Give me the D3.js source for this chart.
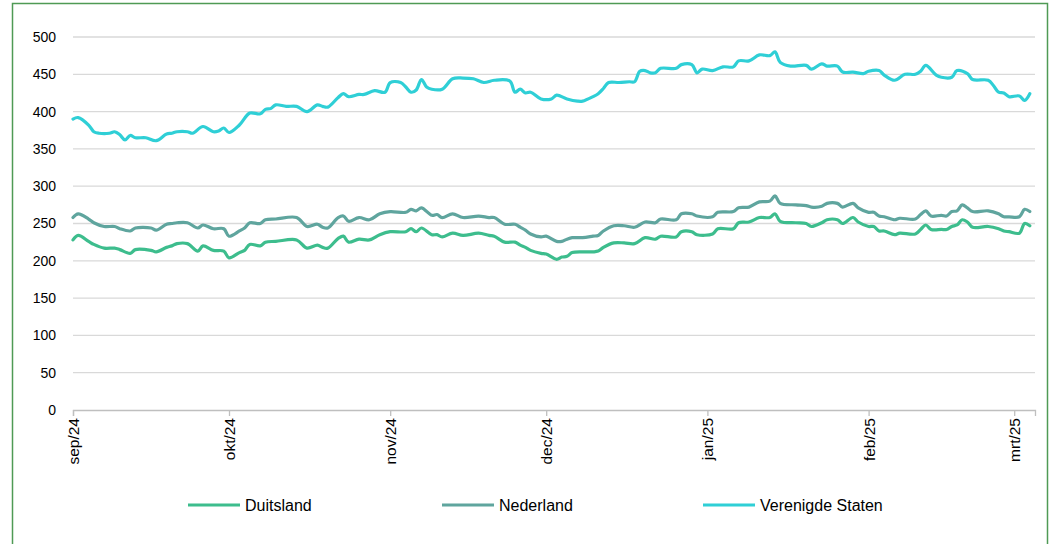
<!DOCTYPE html>
<html>
<head>
<meta charset="utf-8">
<script src="https://cdn.jsdelivr.net/npm/d3@7"></script>
<style>
  body { margin: 0; background: #fff; }
  text { font-family: "Liberation Sans", Arial, sans-serif; fill: #000; }
</style>
</head>
<body>
<div id="chart"></div>
<script>
// dates shared by Duitsland and Nederland
const datesEU = [
  "2024-09-01","2024-09-02","2024-09-04","2024-09-05","2024-09-07","2024-09-09","2024-09-10","2024-09-12","2024-09-13","2024-09-16",
  "2024-09-17","2024-09-19","2024-09-20","2024-09-21","2024-09-23","2024-09-25","2024-09-26","2024-09-28","2024-09-30",
  "2024-10-01","2024-10-03","2024-10-04","2024-10-05","2024-10-07","2024-10-08","2024-10-10","2024-10-14","2024-10-16","2024-10-18",
  "2024-10-19","2024-10-20","2024-10-22","2024-10-23","2024-10-24","2024-10-26","2024-10-28","2024-10-30",
  "2024-11-01","2024-11-04","2024-11-05","2024-11-06","2024-11-07","2024-11-09","2024-11-10","2024-11-11","2024-11-13","2024-11-15",
  "2024-11-18","2024-11-20","2024-11-21","2024-11-23","2024-11-25","2024-11-26","2024-11-27","2024-11-28","2024-11-30",
  "2024-12-01","2024-12-03","2024-12-04","2024-12-05","2024-12-06","2024-12-08","2024-12-10","2024-12-11","2024-12-12","2024-12-14",
  "2024-12-16","2024-12-18","2024-12-20","2024-12-22","2024-12-23","2024-12-26","2024-12-27","2024-12-29","2024-12-30",
  "2025-01-02","2025-01-03","2025-01-06","2025-01-07","2025-01-09","2025-01-11","2025-01-13","2025-01-14","2025-01-15","2025-01-18",
  "2025-01-20","2025-01-21","2025-01-23","2025-01-24","2025-01-26","2025-01-27","2025-01-29","2025-01-30",
  "2025-02-01","2025-02-02","2025-02-03","2025-02-04","2025-02-06","2025-02-07","2025-02-10","2025-02-11","2025-02-12","2025-02-13",
  "2025-02-15","2025-02-16","2025-02-17","2025-02-18","2025-02-19","2025-02-20","2025-02-21","2025-02-24","2025-02-26","2025-02-27",
  "2025-02-28","2025-03-02","2025-03-03","2025-03-04"
];
const duitsland = [
  228,234,226,222,217,217,215,210,215,214,212,218,220,223,223,213,220,214,213,
  204,211,214,222,220,225,226,228,217,221,218,217,230,233,225,229,228,235,
  239,239,243,239,244,235,235,232,237,234,237,234,233,225,225,221,218,214,210,
  209,202,205,206,211,212,212,213,218,224,224,223,231,229,233,232,239,239,235,
  236,243,243,251,252,258,258,263,253,251,250,246,251,255,255,250,258,252,
  246,246,240,240,235,237,236,242,248,242,242,242,246,248,255,252,245,246,243,240,239,
  237,250,247
];
const nederland = [
  258,263,256,251,246,246,243,240,244,244,241,249,250,251,251,244,248,243,243,
  233,240,244,251,250,255,256,258,246,249,245,244,258,260,253,258,255,263,
  266,265,269,267,271,261,262,258,263,258,260,258,258,249,249,245,241,236,232,
  233,226,226,229,231,231,233,234,240,247,247,245,252,251,256,255,263,263,260,
  259,265,266,271,272,279,280,287,277,275,274,272,273,277,277,272,277,271,
  265,265,260,259,255,257,256,262,267,260,261,260,266,267,275,271,266,267,263,259,259,
  259,269,266
];

const datesUS = [
  "2024-09-01","2024-09-02","2024-09-04","2024-09-05","2024-09-06","2024-09-08","2024-09-09","2024-09-10","2024-09-11","2024-09-12",
  "2024-09-13","2024-09-15","2024-09-17","2024-09-19","2024-09-20","2024-09-21","2024-09-23","2024-09-24","2024-09-26","2024-09-28",
  "2024-09-29","2024-09-30",
  "2024-10-01","2024-10-03","2024-10-05","2024-10-07","2024-10-08","2024-10-09","2024-10-10","2024-10-12","2024-10-14","2024-10-16",
  "2024-10-18","2024-10-19","2024-10-20","2024-10-22","2024-10-23","2024-10-24","2024-10-26","2024-10-27","2024-10-29","2024-10-31",
  "2024-11-01","2024-11-03","2024-11-04","2024-11-05","2024-11-06","2024-11-07","2024-11-08","2024-11-09","2024-11-11","2024-11-13",
  "2024-11-15","2024-11-17","2024-11-19","2024-11-21","2024-11-24","2024-11-25","2024-11-26","2024-11-27","2024-11-28","2024-11-30",
  "2024-12-02","2024-12-03","2024-12-05","2024-12-07","2024-12-08","2024-12-10","2024-12-11","2024-12-12","2024-12-13","2024-12-15",
  "2024-12-17","2024-12-18","2024-12-19","2024-12-20","2024-12-21","2024-12-22","2024-12-23","2024-12-26","2024-12-27","2024-12-29",
  "2024-12-30","2024-12-31",
  "2025-01-02","2025-01-04","2025-01-06","2025-01-07","2025-01-09","2025-01-11","2025-01-13","2025-01-14","2025-01-15","2025-01-17",
  "2025-01-20","2025-01-21","2025-01-23","2025-01-24","2025-01-26","2025-01-27","2025-01-29","2025-01-31",
  "2025-02-01","2025-02-03","2025-02-04","2025-02-06","2025-02-08","2025-02-10","2025-02-11","2025-02-12","2025-02-14","2025-02-15",
  "2025-02-17","2025-02-18","2025-02-20","2025-02-21","2025-02-24","2025-02-25","2025-02-26","2025-02-27","2025-02-28",
  "2025-03-02","2025-03-03","2025-03-04"
];
const verenigdeStaten = [
  390,392,382,373,371,371,373,369,362,368,365,365,361,370,371,373,373,371,380,373,374,378,
  372,382,398,397,403,404,409,407,407,400,409,407,406,419,424,420,423,423,428,426,
  439,439,433,426,429,443,433,430,430,444,445,444,439,442,441,426,430,425,426,417,
  417,422,417,414,414,420,424,431,439,439,440,440,454,455,452,452,458,458,463,463,452,457,
  455,460,460,468,468,476,475,480,466,461,462,457,464,461,461,453,453,451,
  454,455,449,442,450,450,454,462,449,446,446,455,451,443,442,435,426,425,420,
  421,415,424
];

const seriesNames = ["Duitsland", "Nederland", "Verenigde Staten"];
const seriesColors = ["#3dbd8d", "#5fa59e", "#2fcfd6"];
const yTicks = [0, 50, 100, 150, 200, 250, 300, 350, 400, 450, 500];
const monthTicks = ["2024-09-01","2024-10-01","2024-11-01","2024-12-01","2025-01-01","2025-02-01","2025-03-01"];
const monthLabels = ["sep/24","okt/24","nov/24","dec/24","jan/25","feb/25","mrt/25"];

const width = 1051, height = 544;
const parse = d3.utcParse("%Y-%m-%d");

const svg = d3.select("#chart").append("svg")
  .attr("width", width)
  .attr("height", height);

svg.append("rect")
  .attr("width", width).attr("height", height)
  .attr("fill", "#fff");

// outer green frame
svg.append("rect")
  .attr("x", 12.5).attr("y", 3.5)
  .attr("width", 1035).attr("height", 580)
  .attr("fill", "none")
  .attr("stroke", "#4f9a55")
  .attr("stroke-width", 1.5);

const x = d3.scaleUtc()
  .domain([parse("2024-09-01"), parse("2025-03-05")])
  .range([73, 1035]);

const y = d3.scaleLinear()
  .domain([0, 500])
  .range([410, 37]);

// gridlines
svg.append("g")
  .selectAll("line")
  .data(yTicks.filter(d => d > 0))
  .enter().append("line")
  .attr("x1", x.range()[0]).attr("x2", x.range()[1])
  .attr("y1", d => y(d)).attr("y2", d => y(d))
  .attr("stroke", "#d9d9d9")
  .attr("stroke-width", 1.3);

// y labels
svg.append("g")
  .selectAll("text")
  .data(yTicks)
  .enter().append("text")
  .attr("x", 56)
  .attr("y", d => y(d))
  .attr("dy", "0.35em")
  .attr("text-anchor", "end")
  .style("font-size", "14px")
  .text(d => d);

// x axis
const xAxis = d3.axisBottom(x)
  .tickValues(monthTicks.map(parse))
  .tickSize(6)
  .tickFormat((d, i) => monthLabels[i]);

const gx = svg.append("g")
  .attr("transform", `translate(0,${y(0)})`)
  .call(xAxis);

gx.select(".domain").attr("stroke", "#bfbfbf").attr("stroke-width", 1.3);
gx.selectAll(".tick line").attr("stroke", "#bfbfbf").attr("stroke-width", 1.3);
gx.selectAll(".tick text")
  .attr("transform", "rotate(-90)")
  .attr("text-anchor", "end")
  .attr("x", -8)
  .attr("y", 0)
  .attr("dy", "0.35em")
  .style("font-size", "15.5px")
  .style("font-family", "Liberation Sans, Arial, sans-serif")
  .attr("fill", "#000");

// lines
const series = [
  { name: seriesNames[0], dates: datesEU, values: duitsland, color: seriesColors[0] },
  { name: seriesNames[1], dates: datesEU, values: nederland, color: seriesColors[1] },
  { name: seriesNames[2], dates: datesUS, values: verenigdeStaten, color: seriesColors[2] }
];

const line = d3.line()
  .x(d => x(d.date))
  .y(d => y(d.value))
  .curve(d3.curveCatmullRom.alpha(0.5));

series.forEach(s => {
  const pts = s.dates.map((dt, i) => ({ date: parse(dt), value: s.values[i] }));
  svg.append("path")
    .datum(pts)
    .attr("fill", "none")
    .attr("stroke", s.color)
    .attr("stroke-width", 3.2)
    .attr("stroke-linejoin", "round")
    .attr("stroke-linecap", "round")
    .attr("d", line);
});

// legend
const legendX = [188, 442, 703];
const legend = svg.append("g");
series.forEach((s, i) => {
  legend.append("line")
    .attr("x1", legendX[i]).attr("x2", legendX[i] + 52)
    .attr("y1", 505).attr("y2", 505)
    .attr("stroke", s.color)
    .attr("stroke-width", 3);
  legend.append("text")
    .attr("x", legendX[i] + 57)
    .attr("y", 505)
    .attr("dy", "0.35em")
    .style("font-size", "16px")
    .text(s.name);
});
</script>
</body>
</html>
